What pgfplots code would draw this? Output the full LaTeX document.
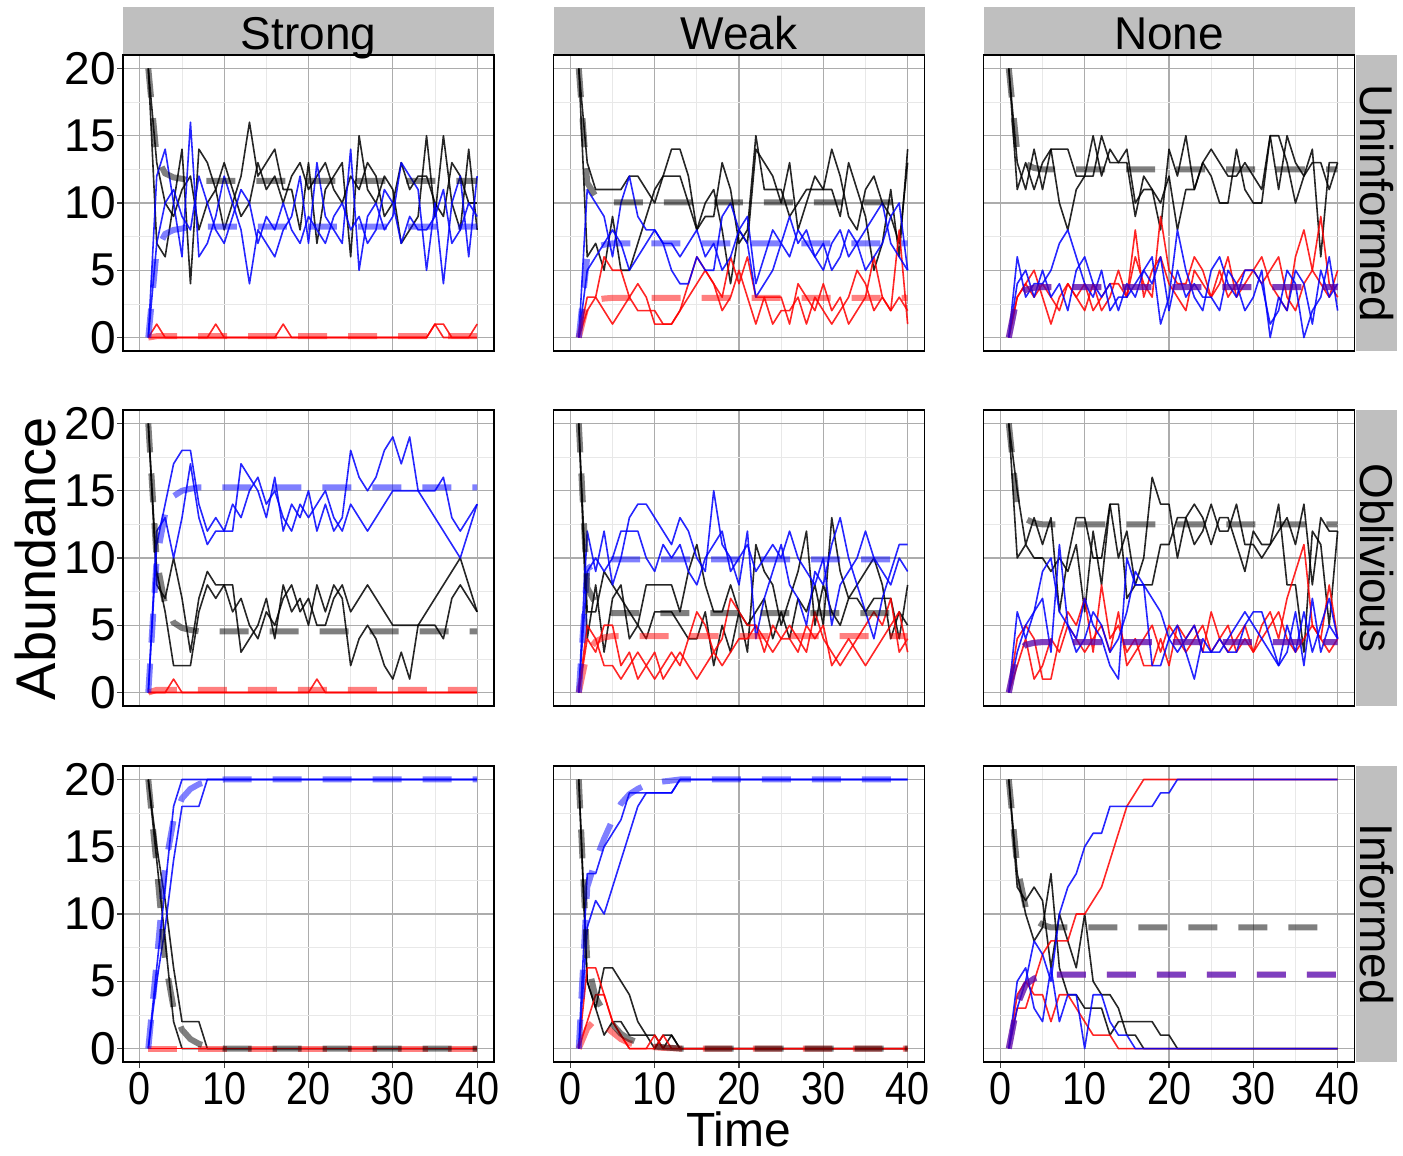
\documentclass[border=0pt]{standalone}
\usepackage{fontspec}
\setmainfont{Liberation Sans}
\usepackage{pgfplots}
\usepackage{pgfplotstable}
\pgfplotsset{compat=1.18}

% columns: t, blue A/B, red A/B, black A/B, mean black, mean blue, mean red
\pgfplotstableread{
t bA bB rA rB kA kB mk mb mr
1 0 0 0 0 20 20 20 0 0
2 12 7 1 0 7 13 13.4 6.5 0.1
3 14 10 0 0 6 10 12.2 7.7 0.1
4 10 11 0 0 10 9 11.9 8.0 0.1
5 6 9 0 0 14 11 11.8 8.1 0.1
6 16 8 0 0 4 12 11.65 8.25 0.1
7 6 12 0 0 14 8 11.65 8.25 0.1
8 7 10 0 0 13 10 11.65 8.25 0.1
9 9 8 0 1 11 11 11.65 8.25 0.1
10 12 7 0 0 8 13 11.65 8.25 0.1
11 10 9 0 0 10 11 11.65 8.25 0.1
12 8 11 0 0 12 9 11.65 8.25 0.1
13 4 10 0 0 16 10 11.65 8.25 0.1
14 8 7 0 0 12 13 11.65 8.25 0.1
15 7 9 0 0 13 11 11.65 8.25 0.1
16 6 8 0 0 14 12 11.65 8.25 0.1
17 8 10 1 0 11 10 11.65 8.25 0.1
18 9 8 0 0 11 12 11.65 8.25 0.1
19 12 7 0 0 8 13 11.65 8.25 0.1
20 7 9 0 0 13 11 11.65 8.25 0.1
21 13 8 0 0 7 12 11.65 8.25 0.1
22 9 7 0 0 11 13 11.65 8.25 0.1
23 8 9 0 0 12 11 11.65 8.25 0.1
24 7 10 0 0 13 10 11.65 8.25 0.1
25 14 8 0 0 6 12 11.65 8.25 0.1
26 5 9 0 0 15 11 11.65 8.25 0.1
27 9 7 0 0 11 13 11.65 8.25 0.1
28 10 8 0 0 10 12 11.65 8.25 0.1
29 8 11 0 0 12 9 11.65 8.25 0.1
30 9 10 0 0 11 10 11.65 8.25 0.1
31 13 7 0 0 7 13 11.65 8.25 0.1
32 12 9 0 0 8 11 11.65 8.25 0.1
33 11 8 0 0 9 12 11.65 8.25 0.1
34 5 8 0 0 15 12 11.65 8.25 0.1
35 10 9 1 1 9 10 11.65 8.25 0.1
36 4 11 1 0 15 9 11.65 8.25 0.1
37 10 7 0 0 10 13 11.65 8.25 0.1
38 12 8 0 0 8 12 11.65 8.25 0.1
39 6 10 0 0 14 10 11.65 8.25 0.1
40 12 9 0 1 8 10 11.65 8.25 0.1
}\US

\pgfplotstableread{
t bA bB rA rB kA kB mk mb mr
1 0 0 0 0 20 20 20 0 0
2 11 5 3 2 6 13 11.5 6.0 2.5
3 10 6 3 3 7 11 10.5 6.7 2.8
4 9 7 6 2 5 11 10.2 6.9 2.9
5 6 8 5 1 9 11 10.05 7.0 2.95
6 10 7 5 2 5 11 10.05 7.0 2.95
7 12 5 3 3 5 12 10.05 7.0 2.95
8 9 6 4 2 7 12 10.05 7.0 2.95
9 8 7 3 2 9 11 10.05 7.0 2.95
10 8 8 1 2 11 10 10.05 7.0 2.95
11 7 7 1 1 12 12 10.05 7.0 2.95
12 5 7 1 1 14 12 10.05 7.0 2.95
13 4 6 2 2 14 12 10.05 7.0 2.95
14 4 7 4 3 12 10 10.05 7.0 2.95
15 6 8 6 4 8 8 10.05 7.0 2.95
16 5 6 5 5 10 9 10.05 7.0 2.95
17 5 7 4 4 11 9 10.05 7.0 2.95
18 9 5 3 2 8 13 10.05 7.0 2.95
19 10 6 6 3 4 11 10.05 7.0 2.95
20 8 8 4 5 8 7 10.05 7.0 2.95
21 7 9 6 3 7 8 10.05 7.0 2.95
22 3 4 3 1 14 15 10.05 7.0 2.95
23 4 6 3 3 13 11 10.05 7.0 2.95
24 5 8 3 1 12 11 10.05 7.0 2.95
25 7 7 3 2 10 11 10.05 7.0 2.95
26 6 9 1 2 13 9 10.05 7.0 2.95
27 8 7 4 3 8 10 10.05 7.0 2.95
28 7 8 3 1 10 11 10.05 7.0 2.95
29 6 6 2 3 12 11 10.05 7.0 2.95
30 5 7 4 2 11 11 10.05 7.0 2.95
31 7 5 2 1 11 14 10.05 7.0 2.95
32 8 6 3 2 9 12 10.05 7.0 2.95
33 6 8 1 3 13 9 10.05 7.0 2.95
34 7 7 2 5 11 8 10.05 7.0 2.95
35 8 5 3 4 9 11 10.05 7.0 2.95
36 9 6 6 2 5 12 10.05 7.0 2.95
37 10 7 3 3 7 10 10.05 7.0 2.95
38 7 9 2 2 11 9 10.05 7.0 2.95
39 6 10 8 3 6 7 10.05 7.0 2.95
40 5 5 1 2 14 13 10.05 7.0 2.95
}\UW

\pgfplotstableread{
t bA bB rA rB kA kB mk mb mr
1 0 0 0 0 20 20 20 0 0
2 6 4 3 3 11 13 13.8 3.1 3.1
3 3 5 4 4 13 11 12.9 3.55 3.55
4 4 3 5 3 11 14 12.6 3.7 3.7
5 4 5 3 4 13 11 12.5 3.75 3.75
6 5 3 1 3 14 14 12.5 3.75 3.75
7 7 4 3 2 10 14 12.5 3.75 3.75
8 8 2 4 4 8 14 12.5 3.75 3.75
9 6 5 3 3 11 12 12.5 3.75 3.75
10 4 6 4 2 12 12 12.5 3.75 3.75
11 3 4 2 4 15 12 12.5 3.75 3.75
12 5 3 3 2 12 15 12.5 3.75 3.75
13 2 4 4 3 14 13 12.5 3.75 3.75
14 3 2 4 5 13 13 12.5 3.75 3.75
15 3 4 3 3 14 13 12.5 3.75 3.75
16 4 3 6 8 10 9 12.5 3.75 3.75
17 5 5 4 3 11 12 12.5 3.75 3.75
18 6 4 3 5 11 11 12.5 3.75 3.75
19 1 6 9 6 10 8 12.5 3.75 3.75
20 3 2 5 4 12 14 12.5 3.75 3.75
21 8 5 4 3 8 12 12.5 3.75 3.75
22 5 3 4 2 11 15 12.5 3.75 3.75
23 3 4 6 5 11 11 12.5 3.75 3.75
24 2 3 5 4 13 13 12.5 3.75 3.75
25 5 3 3 3 12 14 12.5 3.75 3.75
26 6 2 4 5 10 13 12.5 3.75 3.75
27 4 5 6 3 10 12 12.5 3.75 3.75
28 3 4 3 4 14 12 12.5 3.75 3.75
29 5 2 4 5 11 13 12.5 3.75 3.75
30 5 3 5 5 10 12 12.5 3.75 3.75
31 4 5 6 4 10 11 12.5 3.75 3.75
32 1 0 4 5 15 15 12.5 3.75 3.75
33 2 3 3 6 15 11 12.5 3.75 3.75
34 5 2 2 3 13 15 12.5 3.75 3.75
35 4 5 6 2 10 13 12.5 3.75 3.75
36 0 4 8 4 12 12 12.5 3.75 3.75
37 2 1 5 5 13 14 12.5 3.75 3.75
38 3 5 4 9 13 6 12.5 3.75 3.75
39 6 3 3 4 11 13 12.5 3.75 3.75
40 2 4 5 3 13 13 12.5 3.75 3.75
}\UN

\pgfplotstableread{
t bA bB rA rB kA kB mk mb mr
1 0 0 0 0 20 20 20 0 0
2 11 12 0 0 9 8 9.8 10 0.2
3 14 13 0 0 6 7 6.5 13.3 0.2
4 17 10 1 0 2 10 5.2 14.6 0.2
5 18 13 0 0 2 7 4.8 15.0 0.2
6 18 17 0 0 2 3 4.65 15.15 0.2
7 14 13 0 0 6 7 4.55 15.25 0.2
8 12 11 0 0 8 9 4.55 15.25 0.2
9 13 12 0 0 7 8 4.55 15.25 0.2
10 12 12 0 0 8 8 4.55 15.25 0.2
11 12 14 0 0 8 6 4.55 15.25 0.2
12 17 13 0 0 3 7 4.55 15.25 0.2
13 16 15 0 0 4 5 4.55 15.25 0.2
14 15 16 0 0 5 4 4.55 15.25 0.2
15 13 14 0 0 7 6 4.55 15.25 0.2
16 16 15 0 0 4 5 4.55 15.25 0.2
17 12 13 0 0 8 7 4.55 15.25 0.2
18 14 12 0 0 6 8 4.55 15.25 0.2
19 13 14 0 0 7 6 4.55 15.25 0.2
20 15 13 0 0 5 7 4.55 15.25 0.2
21 12 14 0 1 8 5 4.55 15.25 0.2
22 14 15 0 0 6 5 4.55 15.25 0.2
23 12 13 0 0 8 7 4.55 15.25 0.2
24 13 12 0 0 7 8 4.55 15.25 0.2
25 18 14 0 0 2 6 4.55 15.25 0.2
26 16 13 0 0 4 7 4.55 15.25 0.2
27 15 12 0 0 5 8 4.55 15.25 0.2
28 16 13 0 0 4 7 4.55 15.25 0.2
29 18 14 0 0 2 6 4.55 15.25 0.2
30 19 15 0 0 1 5 4.55 15.25 0.2
31 17 15 0 0 3 5 4.55 15.25 0.2
32 19 15 0 0 1 5 4.55 15.25 0.2
33 15 15 0 0 5 5 4.55 15.25 0.2
34 14 15 0 0 6 5 4.55 15.25 0.2
35 13 15 0 0 7 5 4.55 15.25 0.2
36 12 16 0 0 8 4 4.55 15.25 0.2
37 11 13 0 0 9 7 4.55 15.25 0.2
38 10 12 0 0 10 8 4.55 15.25 0.2
39 12 13 0 0 8 7 4.55 15.25 0.2
40 14 14 0 0 6 6 4.55 15.25 0.2
}\OS

\pgfplotstableread{
t bA bB rA rB kA kB mk mb mr
1 0 0 0 0 20 20 20 0 0
2 12 9 4 5 4 6 7.8 9.2 3.0
3 9 10 3 4 8 6 6.6 9.6 3.8
4 12 9 5 2 3 9 6.1 9.8 4.1
5 8 10 5 2 7 8 5.9 9.9 4.2
6 10 12 2 1 8 7 5.9 9.9 4.2
7 13 12 3 2 4 6 5.9 9.9 4.2
8 14 12 1 3 5 5 5.9 9.9 4.2
9 14 10 2 2 4 8 5.9 9.9 4.2
10 13 9 1 3 6 8 5.9 9.9 4.2
11 12 11 2 1 6 8 5.9 9.9 4.2
12 11 10 3 2 6 8 5.9 9.9 4.2
13 13 11 2 3 5 6 5.9 9.9 4.2
14 12 9 4 2 4 9 5.9 9.9 4.2
15 10 8 6 1 4 11 5.9 9.9 4.2
16 9 10 5 2 6 8 5.9 9.9 4.2
17 15 11 3 3 2 6 5.9 9.9 4.2
18 11 12 4 2 5 6 5.9 9.9 4.2
19 10 9 7 3 3 8 5.9 9.9 4.2
20 8 10 6 4 6 6 5.9 9.9 4.2
21 12 11 5 4 3 5 5.9 9.9 4.2
22 4 9 5 5 11 6 5.9 9.9 4.2
23 7 10 4 3 9 7 5.9 9.9 4.2
24 9 11 3 5 8 4 5.9 9.9 4.2
25 11 10 4 4 5 6 5.9 9.9 4.2
26 8 12 5 4 7 4 5.9 9.9 4.2
27 7 10 4 3 9 7 5.9 9.9 4.2
28 5 9 3 5 12 6 5.9 9.9 4.2
29 9 8 6 4 5 8 5.9 9.9 4.2
30 8 10 4 5 8 5 5.9 9.9 4.2
31 11 5 3 2 6 13 5.9 9.9 4.2
32 13 8 2 3 5 9 5.9 9.9 4.2
33 10 9 3 4 7 7 5.9 9.9 4.2
34 8 10 4 3 8 7 5.9 9.9 4.2
35 6 12 5 2 9 6 5.9 9.9 4.2
36 4 10 6 3 10 7 5.9 9.9 4.2
37 7 9 5 4 8 7 5.9 9.9 4.2
38 9 8 7 5 4 7 5.9 9.9 4.2
39 11 10 3 6 6 4 5.9 9.9 4.2
40 11 9 4 3 5 8 5.9 9.9 4.2
}\OW

\pgfplotstableread{
t bA bB rA rB kA kB mk mb mr
1 0 0 0 0 20 20 20 0 0
2 6 3 4 2 10 15 14.0 3.0 3.0
3 4 5 5 4 11 11 12.9 3.55 3.55
4 6 6 4 1 10 13 12.6 3.7 3.7
5 9 7 1 2 10 11 12.5 3.75 3.75
6 10 3 1 4 9 13 12.5 3.75 3.75
7 6 11 4 3 10 6 12.5 3.75 3.75
8 5 5 6 5 9 10 12.5 3.75 3.75
9 4 3 5 4 11 13 12.5 3.75 3.75
10 7 4 7 3 6 13 12.5 3.75 3.75
11 5 6 3 4 12 10 12.5 3.75 3.75
12 4 5 8 5 8 10 12.5 3.75 3.75
13 2 3 4 3 14 14 12.5 3.75 3.75
14 1 4 5 6 14 10 12.5 3.75 3.75
15 10 6 3 2 7 12 12.5 3.75 3.75
16 8 9 4 3 8 8 12.5 3.75 3.75
17 8 8 2 4 10 8 12.5 3.75 3.75
18 2 7 2 5 16 8 12.5 3.75 3.75
19 2 6 4 3 14 11 12.5 3.75 3.75
20 4 4 2 5 14 11 12.5 3.75 3.75
21 5 3 5 4 10 13 12.5 3.75 3.75
22 3 4 4 3 13 13 12.5 3.75 3.75
23 1 5 5 4 14 11 12.5 3.75 3.75
24 4 3 3 5 13 12 12.5 3.75 3.75
25 3 3 6 3 11 14 12.5 3.75 3.75
26 3 4 4 4 13 12 12.5 3.75 3.75
27 4 3 3 5 13 12 12.5 3.75 3.75
28 5 3 4 3 11 14 12.5 3.75 3.75
29 6 5 5 4 9 11 12.5 3.75 3.75
30 5 6 3 3 12 11 12.5 3.75 3.75
31 4 6 5 4 11 10 12.5 3.75 3.75
32 3 4 6 5 11 11 12.5 3.75 3.75
33 2 2 4 6 14 12 12.5 3.75 3.75
34 5 3 7 4 8 13 12.5 3.75 3.75
35 3 6 9 3 8 11 12.5 3.75 3.75
36 6 2 11 4 3 14 12.5 3.75 3.75
37 3 7 5 5 12 8 12.5 3.75 3.75
38 5 3 4 4 11 13 12.5 3.75 3.75
39 7 5 8 3 5 12 12.5 3.75 3.75
40 4 4 4 4 12 12 12.5 3.75 3.75
}\ON

\pgfplotstableread{
t bA bB rA rB kA kB mk mb mr
1 0 0 0 0 20 20 20 0 0
2 6 5 0 0 14 15 13.5 6.5 0
3 12 9 0 0 8 11 6.5 13.5 0
4 18 14 0 0 2 6 3.0 17.0 0
5 20 18 0 0 0 2 1.4 18.6 0
6 20 18 0 0 0 2 0.7 19.3 0
7 20 18 0 0 0 2 0.35 19.65 0
8 20 20 0 0 0 0 0.15 19.85 0
9 20 20 0 0 0 0 0.05 19.95 0
10 20 20 0 0 0 0 0 20 0
11 20 20 0 0 0 0 0 20 0
12 20 20 0 0 0 0 0 20 0
13 20 20 0 0 0 0 0 20 0
14 20 20 0 0 0 0 0 20 0
15 20 20 0 0 0 0 0 20 0
16 20 20 0 0 0 0 0 20 0
17 20 20 0 0 0 0 0 20 0
18 20 20 0 0 0 0 0 20 0
19 20 20 0 0 0 0 0 20 0
20 20 20 0 0 0 0 0 20 0
21 20 20 0 0 0 0 0 20 0
22 20 20 0 0 0 0 0 20 0
23 20 20 0 0 0 0 0 20 0
24 20 20 0 0 0 0 0 20 0
25 20 20 0 0 0 0 0 20 0
26 20 20 0 0 0 0 0 20 0
27 20 20 0 0 0 0 0 20 0
28 20 20 0 0 0 0 0 20 0
29 20 20 0 0 0 0 0 20 0
30 20 20 0 0 0 0 0 20 0
31 20 20 0 0 0 0 0 20 0
32 20 20 0 0 0 0 0 20 0
33 20 20 0 0 0 0 0 20 0
34 20 20 0 0 0 0 0 20 0
35 20 20 0 0 0 0 0 20 0
36 20 20 0 0 0 0 0 20 0
37 20 20 0 0 0 0 0 20 0
38 20 20 0 0 0 0 0 20 0
39 20 20 0 0 0 0 0 20 0
40 20 20 0 0 0 0 0 20 0
}\IS

\pgfplotstableread{
t bA bB rA rB kA kB mk mb mr
1 0 0 0 0 20 20 20 0 0
2 13 9 2 6 5 5 6.5 12.0 1.5
3 13 11 4 6 3 3 3.8 14.0 2.2
4 15 10 4 4 1 6 2.7 15.6 1.7
5 16 12 2 2 2 6 1.8 17.0 1.2
6 17 14 1 1 2 5 1.1 18.2 0.7
7 19 16 0 0 1 4 0.7 18.9 0.4
8 19 18 0 0 1 2 0.45 19.3 0.25
9 19 19 0 0 1 1 0.25 19.6 0.15
10 19 19 0 1 1 0 0.15 19.75 0.1
11 19 19 1 0 0 1 0.1 19.85 0.05
12 19 19 0 0 1 1 0.05 19.92 0.03
13 20 20 0 0 0 0 0 20 0
14 20 20 0 0 0 0 0 20 0
15 20 20 0 0 0 0 0 20 0
16 20 20 0 0 0 0 0 20 0
17 20 20 0 0 0 0 0 20 0
18 20 20 0 0 0 0 0 20 0
19 20 20 0 0 0 0 0 20 0
20 20 20 0 0 0 0 0 20 0
21 20 20 0 0 0 0 0 20 0
22 20 20 0 0 0 0 0 20 0
23 20 20 0 0 0 0 0 20 0
24 20 20 0 0 0 0 0 20 0
25 20 20 0 0 0 0 0 20 0
26 20 20 0 0 0 0 0 20 0
27 20 20 0 0 0 0 0 20 0
28 20 20 0 0 0 0 0 20 0
29 20 20 0 0 0 0 0 20 0
30 20 20 0 0 0 0 0 20 0
31 20 20 0 0 0 0 0 20 0
32 20 20 0 0 0 0 0 20 0
33 20 20 0 0 0 0 0 20 0
34 20 20 0 0 0 0 0 20 0
35 20 20 0 0 0 0 0 20 0
36 20 20 0 0 0 0 0 20 0
37 20 20 0 0 0 0 0 20 0
38 20 20 0 0 0 0 0 20 0
39 20 20 0 0 0 0 0 20 0
40 20 20 0 0 0 0 0 20 0
}\IW

\pgfplotstableread{
t bA bB rA rB kA kB mk mb mr
1 0 0 0 0 20 20 20 0 0
2 3 5 4 3 13 12 13.5 3.25 3.25
3 5 6 5 3 10 11 10.5 4.75 4.75
4 8 3 4 5 8 12 9.6 5.2 5.2
5 7 2 4 7 9 11 9.2 5.4 5.4
6 5 6 2 8 13 6 9.0 5.5 5.5
7 10 2 4 8 6 10 9.0 5.5 5.5
8 12 4 4 8 4 8 9.0 5.5 5.5
9 13 4 3 10 4 6 9.0 5.5 5.5
10 15 0 2 10 3 10 9.0 5.5 5.5
11 16 4 1 11 3 5 9.0 5.5 5.5
12 16 4 1 12 3 4 9.0 5.5 5.5
13 18 2 1 14 1 4 9.0 5.5 5.5
14 18 1 0 16 2 3 9.0 5.5 5.5
15 18 1 0 18 2 1 9.0 5.5 5.5
16 18 0 0 19 2 1 9.0 5.5 5.5
17 18 0 0 20 2 0 9.0 5.5 5.5
18 18 0 0 20 2 0 9.0 5.5 5.5
19 19 0 0 20 1 0 9.0 5.5 5.5
20 19 0 0 20 1 0 9.0 5.5 5.5
21 20 0 0 20 0 0 9.0 5.5 5.5
22 20 0 0 20 0 0 9.0 5.5 5.5
23 20 0 0 20 0 0 9.0 5.5 5.5
24 20 0 0 20 0 0 9.0 5.5 5.5
25 20 0 0 20 0 0 9.0 5.5 5.5
26 20 0 0 20 0 0 9.0 5.5 5.5
27 20 0 0 20 0 0 9.0 5.5 5.5
28 20 0 0 20 0 0 9.0 5.5 5.5
29 20 0 0 20 0 0 9.0 5.5 5.5
30 20 0 0 20 0 0 9.0 5.5 5.5
31 20 0 0 20 0 0 9.0 5.5 5.5
32 20 0 0 20 0 0 9.0 5.5 5.5
33 20 0 0 20 0 0 9.0 5.5 5.5
34 20 0 0 20 0 0 9.0 5.5 5.5
35 20 0 0 20 0 0 9.0 5.5 5.5
36 20 0 0 20 0 0 9.0 5.5 5.5
37 20 0 0 20 0 0 9.0 5.5 5.5
38 20 0 0 20 0 0 9.0 5.5 5.5
39 20 0 0 20 0 0 9.0 5.5 5.5
40 20 0 0 20 0 0 9.0 5.5 5.5
}\IN

\pgfplotsset{
  panel/.style={
    scale only axis, width=185.5pt, height=148pt, anchor=north west,
    xmin=-2, xmax=42, ymin=-1, ymax=21,
    xtick={0,10,20,30,40}, ytick={0,5,10,15,20},
    minor xtick={5,15,25,35}, minor ytick={2.5,7.5,12.5,17.5},
    grid=both,
    major grid style={draw=gray!65, line width=0.55pt},
    minor grid style={draw=gray!18, line width=0.4pt},
    axis line style={line width=0.8pt, black},
    tick align=outside, major tick length=3pt, minor tick length=0pt,
    tick style={black!75, line width=0.55pt},
    xticklabels={}, yticklabels={},
    /pgf/number format/assume math mode=true,
    tick label style={font=\fontsize{23}{26}\selectfont, text=black},
  },
  leftcol/.style={yticklabels={0,5,10,15,20}, ytick pos=left,
    yticklabel style={xshift=3pt}},
  innery/.style={ytick style={draw=none}},
  bottomrow/.style={xtick pos=bottom, xticklabel style={inner sep=1pt, yshift=-1pt},
    xticklabels={\scalebox{.86}[1]{0},\scalebox{.86}[1]{10},\scalebox{.86}[1]{20},\scalebox{.86}[1]{30},\scalebox{.86}[1]{40}}},
  innerx/.style={xtick style={draw=none}},
  rep/.style={line width=0.8pt, draw opacity=0.85, line join=round, no markers},
  mean/.style={line width=3pt, dash pattern=on 14.5pt off 10.5pt, draw opacity=0.5, no markers},
}

\newcommand{\facet}[3]{%
  \begin{axis}[panel, at={#2}, #3]
    \addplot[rep, black] table[x=t, y=kA] {#1};
    \addplot[rep, black] table[x=t, y=kB] {#1};
    \addplot[rep, red] table[x=t, y=rA] {#1};
    \addplot[rep, red] table[x=t, y=rB] {#1};
    \addplot[rep, blue] table[x=t, y=bA] {#1};
    \addplot[rep, blue] table[x=t, y=bB] {#1};
    \addplot[mean, red] table[x=t, y=mr] {#1};
    \addplot[mean, blue] table[x=t, y=mb] {#1};
    \addplot[mean, black] table[x=t, y=mk] {#1};
  \end{axis}}

\begin{document}
\begin{tikzpicture}
\path[use as bounding box] (0,0) rectangle (701.5pt,-578pt);

\facet{\US}{(61.5pt,-27.5pt)}{leftcol, innerx}
\facet{\UW}{(276.75pt,-27.5pt)}{innery, innerx}
\facet{\UN}{(491.75pt,-27.5pt)}{innery, innerx}
\facet{\OS}{(61.5pt,-205pt)}{leftcol, innerx}
\facet{\OW}{(276.75pt,-205pt)}{innery, innerx}
\facet{\ON}{(491.75pt,-205pt)}{innery, innerx}
\facet{\IS}{(61.5pt,-383pt)}{leftcol, bottomrow}
\facet{\IW}{(276.75pt,-383pt)}{innery, bottomrow}
\facet{\IN}{(491.75pt,-383pt)}{innery, bottomrow}

% strips
\foreach \x/\lab in {61.5/Strong, 276.75/Weak, 491.75/None}{
  \fill[gray!50] (\x pt,-3.5pt) rectangle ({\x pt+185.5pt},-27.1pt);
  \node[anchor=base, font=\fontsize{23}{26}\selectfont] at ({\x pt+92.75pt},-24.6pt) {\lab};
}
\foreach \y/\lab in {-27.5/Uninformed, -205/Oblivious, -383/Informed}{
  \fill[gray!50] (678pt,\y pt) rectangle (698.5pt,{\y pt-148pt});
  \node[rotate=-90, font=\fontsize{23}{26}\selectfont] at (688.25pt,{\y pt-74pt}) {\lab};
}

\node[rotate=90, font=\fontsize{28}{32}\selectfont] at (17.5pt,-279.25pt) {Abundance};
\node[anchor=base, inner sep=0pt, font=\fontsize{24}{28}\selectfont] at (369.4pt,-573pt) {Time};
\end{tikzpicture}
\end{document}
